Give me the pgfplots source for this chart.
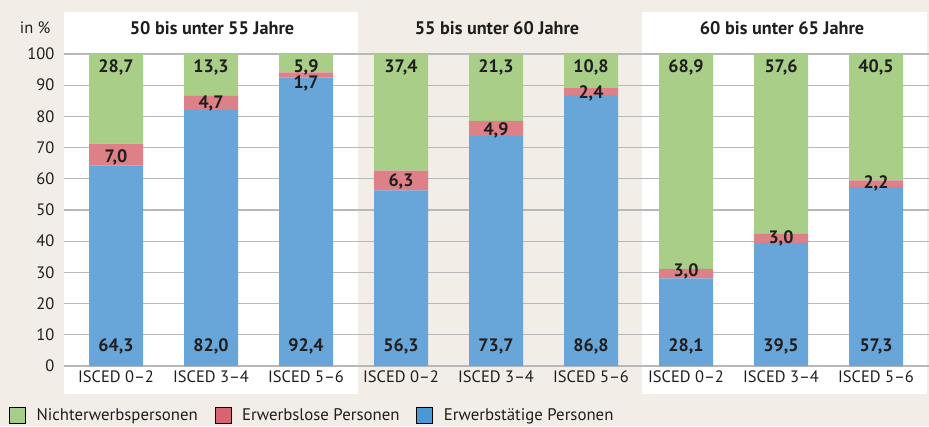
\documentclass[border=0pt]{standalone}
\usepackage{fontspec}
\setmainfont{PT Sans}
\usepackage{pgfplots}
\usepackage{pgfplotstable}
\pgfplotsset{compat=1.18}
\definecolor{bg}{HTML}{F2EDE6}
\definecolor{cBlue}{HTML}{68A5D8}
\definecolor{cRed}{HTML}{DE8088}
\definecolor{cGreen}{HTML}{A8CE87}
\definecolor{lBlue}{HTML}{4A98D5}
\definecolor{lRed}{HTML}{D9636E}
\definecolor{lGreen}{HTML}{A6CE88}
\definecolor{gridc}{HTML}{B8B8B8}
\definecolor{txt}{HTML}{1E1E1E}

% x = bar position, values in %
\pgfplotstableread{
x   erw   erl   nicht
116 64.3  7.0   28.7
211 82.0  4.7   13.3
306 92.4  1.7   5.9
401 56.3  6.3   37.4
496 73.7  4.9   21.3
591 86.8  2.4   10.8
686 28.1  3.0   68.9
781 39.5  3.0   57.6
876 57.3  2.2   40.5
}\datatable

\pgfplotstableread{
x   y     lab
116 6.2   64,3
211 6.2   82,0
306 6.2   92,4
401 6.2   56,3
496 6.2   73,7
591 6.2   86,8
686 6.2   28,1
781 6.2   39,5
876 6.2   57,3
}\labErw

\pgfplotstableread{
x   y     lab
116 67.0  7,0
211 84.1  4,7
306 90.5  1,7
401 59.3  6,3
496 75.6  4,9
591 87.5  2,4
686 30.4  3,0
781 41.0  3,0
876 58.6  2,2
}\labErl

\pgfplotstableread{
x   y     lab
116 95.8  28,7
211 95.8  13,3
306 95.8  5,9
401 95.8  37,4
496 95.8  21,3
591 95.8  10,8
686 95.8  68,9
781 95.8  57,6
876 95.8  40,5
}\labNicht

\begin{document}
\begin{tikzpicture}[x=1pt,y=1pt,font=\fontsize{16.5}{19}\selectfont,text=txt]
\fill[bg] (0,0) rectangle (929,426);
\fill[white] (64,32) rectangle (358,414);
\fill[white] (642,32) rectangle (927,414);

\begin{axis}[
  at={(64pt,60pt)}, anchor=south west,
  scale only axis, width=865pt, height=312pt,
  xmin=64, xmax=929, ymin=0, ymax=100,
  clip=false,
  ybar stacked, bar width=54,
  axis line style={draw=none},
  major tick length=0pt,
  ytick={0,10,...,100},
  ymajorgrids, grid style={draw=gridc, line width=1.3pt},
  xtick={116,211,306,401,496,591,686,781,876},
  xticklabels={ISCED 0–2,ISCED 3–4,ISCED 5–6,ISCED 0–2,ISCED 3–4,ISCED 5–6,ISCED 0–2,ISCED 3–4,ISCED 5–6},
  xticklabel style={yshift=-1pt},
  yticklabel style={xshift=-6pt},
  /pgf/number format/assume math mode=true,
  ticklabel style={font=\fontsize{16.5}{19}\selectfont, text=txt},
  legend style={at={(-0.0636,-0.157)}, anchor=west, draw=none, fill=none,
    inner sep=0pt, legend columns=3,
    nodes={inner sep=0pt, font=\fontsize{16.8}{19}\selectfont, text=txt},
    /tikz/every odd column/.append style={column sep=11pt},
    /tikz/every even column/.append style={column sep=17pt}},
  legend image code/.code={\fill[#1] (0pt,-8pt) rectangle (16pt,8pt);},
]
\addplot[fill=cBlue, draw=none, forget plot] table[x=x, y=erw] {\datatable};
\addplot[fill=cRed, draw=none, forget plot] table[x=x, y=erl] {\datatable};
\addplot[fill=cGreen, draw=none, forget plot] table[x=x, y=nicht] {\datatable};
\addlegendimage{fill=lGreen}
\addlegendentry{Nichterwerbspersonen}
\addlegendimage{fill=lRed}
\addlegendentry{Erwerbslose Personen}
\addlegendimage{fill=lBlue}
\addlegendentry{Erwerbstätige Personen}
\end{axis}

\begin{axis}[
  at={(64pt,60pt)}, anchor=south west,
  scale only axis, width=865pt, height=312pt,
  xmin=64, xmax=929, ymin=0, ymax=100,
  clip=false, hide axis,
  nodes near coords, point meta=explicit symbolic,
  nodes near coords style={anchor=center, font=\fontsize{18}{20}\selectfont\bfseries, text=txt},
]
\addplot[draw=none, mark=none] table[x=x, y=y, meta=lab] {\labErw};
\addplot[draw=none, mark=none] table[x=x, y=y, meta=lab] {\labErl};
\addplot[draw=none, mark=none] table[x=x, y=y, meta=lab] {\labNicht};
\end{axis}

\node[anchor=east] at (54,398) {in \%};
\node[font=\fontsize{18.2}{20}\selectfont\bfseries] at (212,398) {50 bis unter 55 Jahre};
\node[font=\fontsize{18.2}{20}\selectfont\bfseries] at (497,398) {55 bis unter 60 Jahre};
\node[font=\fontsize{18.2}{20}\selectfont\bfseries] at (782,398) {60 bis unter 65 Jahre};

\pgfresetboundingbox
\path (0,0) rectangle (929,426);
\end{tikzpicture}
\end{document}
